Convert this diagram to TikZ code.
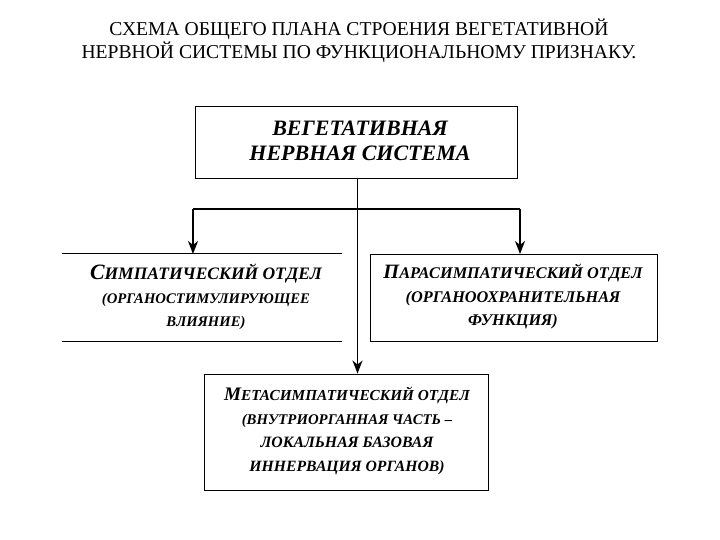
\documentclass[tikz,border=0pt]{standalone}
\usepackage{fontspec}
\setmainfont{Liberation Serif}
\usetikzlibrary{arrows.meta}
% fake small caps: \SCline{size of small letters}{first letter}{rest}
\newcommand\SCline[3]{{\fontsize{#1}{23.5}\selectfont{\fontsize{\dimexpr #1pt*5/4\relax}{23.5}\selectfont #2}#3}}
\newcommand\SCtext[2]{{\fontsize{#1}{23.5}\selectfont #2}}
\begin{document}
\begin{tikzpicture}[x=1pt,y=-1pt,
  boxtext/.style={font=\bfseries\itshape\fontsize{15}{23.5}\selectfont, align=center, inner sep=0pt},
  frame/.style={draw=black, line width=0.9pt},
  conn/.style={line width=1.7pt},
  arr/.style={conn,-{Stealth[length=13pt,width=10pt,inset=4pt]}}]
\useasboundingbox (0,0) rectangle (720,540);
% title
\node[font=\fontsize{19.6}{23}\selectfont, align=center, inner sep=0pt] (title) at (359,40.5)
  {СХЕМА ОБЩЕГО ПЛАНА СТРОЕНИЯ ВЕГЕТАТИВНОЙ\\НЕРВНОЙ СИСТЕМЫ ПО ФУНКЦИОНАЛЬНОМУ ПРИЗНАКУ.};
% main box
\node[frame, minimum width=322pt, minimum height=72pt, inner sep=0pt] (main) at (356.5,142) {};
\node[font=\bfseries\itshape\fontsize{22}{25}\selectfont, align=center, inner sep=0pt] (maintext) at (360,140.5)
  {ВЕГЕТАТИВНАЯ\\НЕРВНАЯ СИСТЕМА};
% left box (top and bottom rules only)
\node[minimum width=280pt, minimum height=87pt, inner sep=0pt] (symp) at (202,297.5) {};
\draw[line width=0.9pt] (symp.north west) -- (symp.north east);
\draw[line width=0.9pt] (symp.south west) -- (symp.south east);
\node[boxtext] (symptext) at (206,297)
  {\SCline{17.5}{С}{ИМПАТИЧЕСКИЙ ОТДЕЛ}\\\SCtext{14.7}{(ОРГАНОСТИМУЛИРУЮЩЕЕ}\\\SCtext{14.7}{ВЛИЯНИЕ)}};
% right box
\node[frame, minimum width=287pt, minimum height=87pt, inner sep=0pt] (para) at (513.5,297.5) {};
\node[boxtext] (paratext) at (513,297)
  {\SCline{16.3}{П}{АРАСИМПАТИЧЕСКИЙ ОТДЕЛ}\\\SCtext{16.3}{(ОРГАНООХРАНИТЕЛЬНАЯ}\\\SCtext{16.3}{ФУНКЦИЯ)}};
% bottom box
\node[frame, minimum width=284pt, minimum height=116pt, inner sep=0pt] (meta) at (346,432) {};
\node[boxtext] (metatext) at (347,431)
  {\SCline{15.3}{М}{ЕТАСИМПАТИЧЕСКИЙ ОТДЕЛ}\\\SCtext{14.8}{(ВНУТРИОРГАННАЯ ЧАСТЬ –}\\\SCtext{15.8}{ЛОКАЛЬНАЯ БАЗОВАЯ}\\\SCtext{15.7}{ИННЕРВАЦИЯ ОРГАНОВ)}};
% connectors
\coordinate (top) at (357.5,178);
\coordinate (lk) at (193,209);
\coordinate (rk) at (520,209);
\coordinate (lend) at (193,254);
\coordinate (rend) at (520,254);
\draw[arr] (top) -- (top |- meta.north);
\draw[conn] (lk) -- (rk);
\draw[arr] (lk) -- (lend);
\draw[arr] (rk) -- (rend);
\end{tikzpicture}
\end{document}
